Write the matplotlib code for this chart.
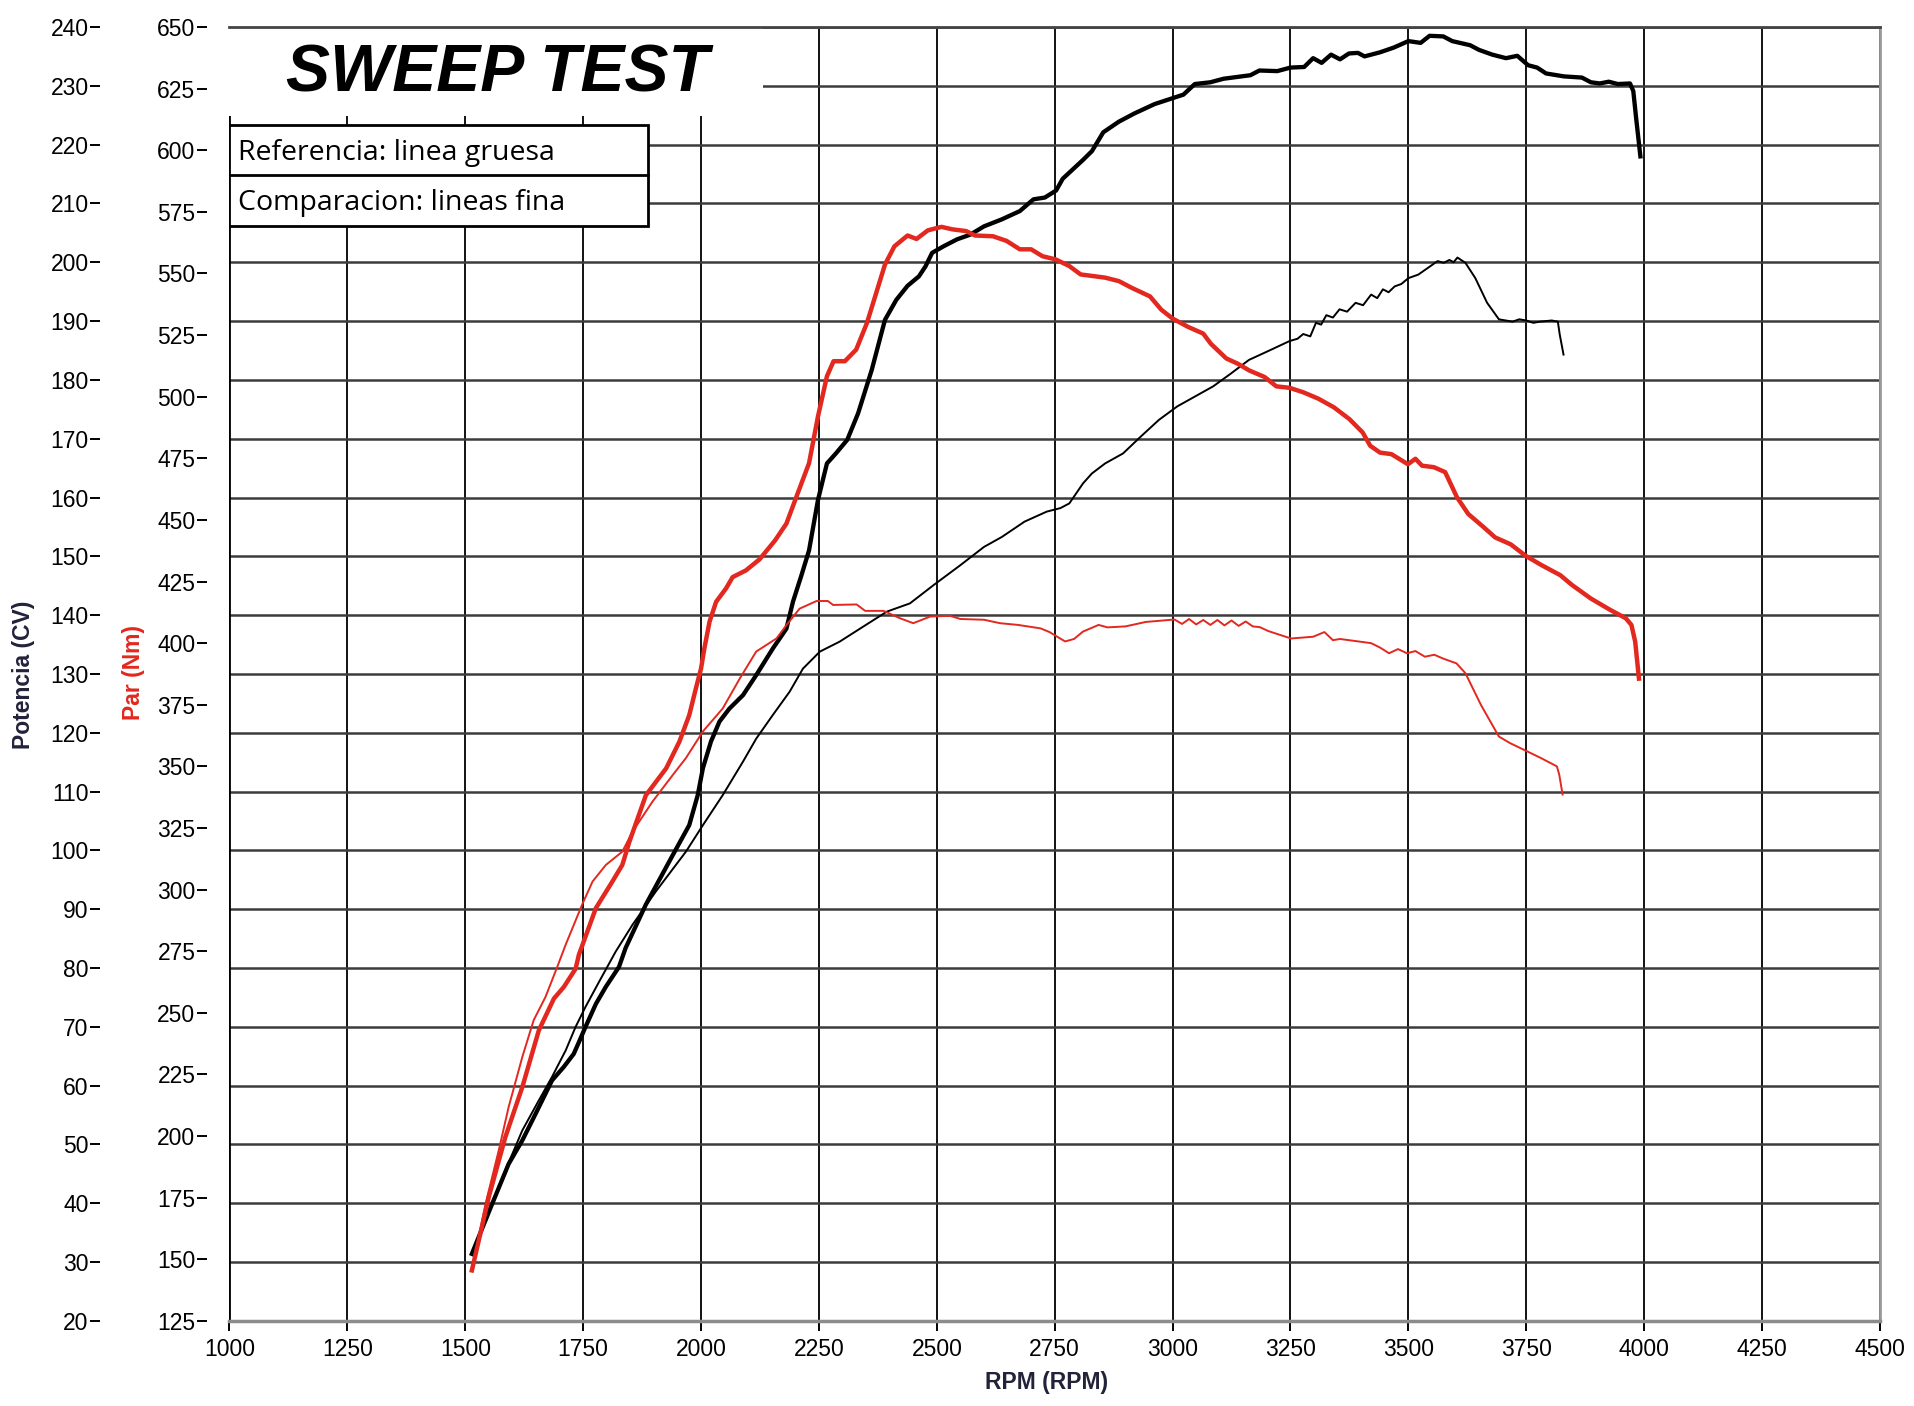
import matplotlib
matplotlib.use('Agg')
import matplotlib.pyplot as plt
from matplotlib.patches import Rectangle

# Reference run (thick lines) - power in CV
rpm_ref_pow = [1514, 1557, 1592, 1621, 1649, 1684, 1709, 1730, 1741, 1755, 1777, 1798, 1826, 1840,
               1883, 1940, 1975, 1993, 2004, 2021, 2039, 2060, 2089, 2117, 2152, 2181, 2195, 2213,
               2229, 2248, 2267, 2286, 2310, 2333, 2362, 2390, 2414, 2438, 2462, 2476, 2490, 2514,
               2543, 2571, 2600, 2638, 2676, 2705, 2729, 2753, 2767, 2810, 2829, 2853, 2886, 2919,
               2962, 3004, 3023, 3047, 3080, 3108, 3165, 3184, 3222, 3250, 3279, 3298, 3316, 3336,
               3355, 3374, 3393, 3407, 3440, 3469, 3500, 3526, 3545, 3574, 3593, 3631, 3650, 3678,
               3707, 3731, 3754, 3773, 3792, 3830, 3868, 3887, 3906, 3925, 3944, 3970, 3977, 3983,
               3992]
ref_pow = [31.4, 39.9, 46.7, 50.7, 55.2, 60.9, 63.2, 65.4, 67.4, 70.0, 73.9, 76.8, 80.2, 83.4,
           90.8, 99.2, 104.3, 109.4, 114.0, 118.5, 121.9, 124.1, 126.4, 129.8, 134.3, 137.7, 142.3, 146.8,
           151.0, 159.6, 165.8, 167.5, 169.8, 174.3, 181.7, 190.2, 193.6, 196.0, 197.6, 199.3, 201.6, 202.7,
           203.9, 204.7, 206.1, 207.3, 208.7, 210.7, 211.0, 212.2, 214.2, 217.4, 218.9, 222.1, 223.9, 225.3,
           226.9, 228.0, 228.5, 230.3, 230.6, 231.2, 231.8, 232.6, 232.5, 233.1, 233.2, 234.7, 233.9, 235.3,
           234.5, 235.5, 235.6, 235.0, 235.7, 236.5, 237.6, 237.3, 238.5, 238.4, 237.6, 236.9, 236.1, 235.3,
           234.7, 235.1, 233.5, 233.1, 232.1, 231.6, 231.4, 230.6, 230.4, 230.7, 230.3, 230.4, 229.1, 224.5,
           218.0]

# Comparison run (thin lines) - power in CV
rpm_cmp_pow = [1514, 1557, 1585, 1621, 1656, 1684, 1713, 1734, 1755, 1784, 1819, 1855, 1904, 1968,
               2004, 2046, 2089, 2117, 2152, 2188, 2216, 2252, 2294, 2337, 2394, 2443, 2493, 2550,
               2600, 2638, 2686, 2733, 2762, 2781, 2810, 2829, 2857, 2895, 2933, 2971, 3010, 3048,
               3086, 3124, 3162, 3200, 3248, 3265, 3277, 3292, 3304, 3315, 3326, 3340, 3354, 3370,
               3388, 3404, 3421, 3434, 3446, 3458, 3471, 3485, 3500, 3521, 3546, 3562, 3575, 3587,
               3596, 3604, 3621, 3642, 3667, 3692, 3721, 3735, 3750, 3765, 3779, 3804, 3817, 3821,
               3829]
cmp_pow = [31.4, 39.9, 45.6, 52.4, 57.5, 61.5, 66.0, 70.0, 73.4, 77.7, 82.8, 87.4, 93.0, 99.8,
           104.3, 109.4, 115.1, 119.0, 123.0, 127.0, 130.9, 133.8, 135.5, 137.7, 140.6, 142.0, 145.1, 148.5,
           151.6, 153.3, 155.9, 157.6, 158.2, 159.0, 162.4, 164.1, 165.8, 167.5, 170.4, 173.2, 175.5, 177.2,
           178.9, 181.1, 183.4, 184.8, 186.6, 187.0, 187.8, 187.4, 189.7, 189.4, 191.0, 190.6, 192.0, 191.6,
           193.1, 192.7, 194.5, 193.9, 195.4, 194.9, 195.9, 196.3, 197.3, 197.9, 199.3, 200.2, 199.9, 200.4,
           200.0, 200.8, 199.9, 197.3, 193.1, 190.3, 189.9, 190.3, 190.1, 189.7, 189.9, 190.1, 189.9, 187.7,
           184.3]

# Reference run (thick lines) - torque in Nm
rpm_ref_trq = [1514, 1550, 1585, 1621, 1656, 1688, 1709, 1734, 1741, 1777, 1812, 1833, 1848, 1883,
               1926, 1954, 1975, 1989, 2000, 2007, 2018, 2032, 2053, 2067, 2095, 2124, 2157, 2181,
               2205, 2229, 2248, 2267, 2281, 2305, 2329, 2352, 2376, 2390, 2410, 2438, 2457, 2481,
               2510, 2533, 2562, 2581, 2619, 2648, 2676, 2700, 2724, 2752, 2781, 2805, 2857, 2886,
               2914, 2952, 2976, 3000, 3033, 3065, 3081, 3114, 3138, 3163, 3195, 3220, 3248, 3277,
               3309, 3342, 3375, 3403, 3419, 3440, 3464, 3499, 3515, 3529, 3554, 3578, 3603, 3627,
               3660, 3684, 3717, 3749, 3782, 3822, 3847, 3887, 3928, 3961, 3973, 3981, 3989]
ref_trq = [145.5, 175.4, 199.6, 219.9, 242.9, 255.8, 260.5, 267.9, 273.6, 292.5, 303.3, 310.0, 319.4, 338.3,
           349.2, 360.0, 370.8, 381.6, 389.7, 397.8, 408.7, 416.8, 422.2, 426.8, 429.5, 434.0, 441.7, 448.5,
           460.8, 473.0, 492.0, 508.3, 514.4, 514.4, 519.1, 530.0, 544.9, 553.6, 561.0, 565.4, 564.0, 567.5,
           568.9, 567.9, 567.2, 565.4, 565.1, 563.2, 559.8, 559.8, 557.0, 555.7, 553.0, 549.6, 548.3, 546.9,
           544.1, 540.7, 535.3, 531.7, 528.3, 525.6, 521.5, 515.5, 513.4, 510.6, 508.0, 504.2, 503.6, 501.8,
           499.2, 495.7, 490.9, 485.5, 480.1, 477.3, 476.7, 472.6, 474.8, 472.0, 471.4, 469.4, 459.2, 452.4,
           447.0, 442.9, 440.1, 435.4, 431.7, 427.6, 423.6, 418.1, 413.5, 410.1, 407.4, 400.6, 385.6]

# Comparison run (thin lines) - torque in Nm
rpm_cmp_trq = [1514, 1543, 1571, 1592, 1621, 1645, 1670, 1695, 1713, 1748, 1770, 1798, 1833, 1855,
               1897, 1940, 1968, 2004, 2046, 2082, 2117, 2160, 2181, 2209, 2245, 2269, 2280, 2330,
               2348, 2387, 2422, 2450, 2486, 2528, 2550, 2600, 2634, 2672, 2720, 2739, 2772, 2791,
               2810, 2843, 2862, 2900, 2943, 3004, 3020, 3035, 3050, 3065, 3080, 3095, 3110, 3125,
               3140, 3155, 3170, 3185, 3203, 3251, 3298, 3322, 3340, 3355, 3421, 3440, 3459, 3478,
               3497, 3515, 3535, 3555, 3573, 3602, 3621, 3654, 3692, 3716, 3753, 3782, 3815, 3820,
               3827]
cmp_trq = [145.5, 172.5, 194.2, 211.8, 232.1, 247.0, 256.4, 268.6, 277.7, 294.0, 303.3, 310.0, 315.4, 323.6,
           335.7, 346.5, 353.4, 364.2, 373.5, 385.6, 396.6, 401.9, 407.3, 414.0, 417.1, 417.1, 415.5, 415.7,
           413.1, 413.1, 410.1, 408.1, 410.8, 411.1, 409.8, 409.5, 408.1, 407.4, 406.0, 404.5, 400.7, 401.7,
           404.7, 407.4, 406.4, 406.8, 408.6, 409.6, 407.8, 409.8, 407.6, 409.4, 407.4, 409.4, 407.2, 409.2,
           407.0, 408.8, 406.8, 406.5, 404.9, 401.9, 402.6, 404.5, 401.2, 401.7, 400.0, 398.2, 395.9, 397.6,
           395.9, 396.8, 394.5, 395.3, 393.8, 391.8, 387.8, 374.9, 362.1, 359.4, 356.0, 353.3, 350.0, 346.6,
           338.6]

rpm_ticks = list(range(1000, 4501, 250))
pow_ticks = list(range(20, 241, 10))
trq_ticks = list(range(125, 651, 25))

red = '#e2281f'
narrow = ['Liberation Sans Narrow', 'Liberation Sans', 'DejaVu Sans']

fig = plt.figure(figsize=(19.14, 14.06), dpi=100)
ax = fig.add_axes([0.1199, 0.0605, 0.8623, 0.9203])
ax_t = ax.twinx()

# power axis (gridlines follow power ticks)
ax.set_xlim(1000, 4500)
ax.set_ylim(20, 240)
ax.set_xticks(rpm_ticks)
ax.set_yticks(pow_ticks)
ax.set_axisbelow(True)
ax.grid(axis='y', color='#3c3c3c', linewidth=1.8)
ax.grid(axis='x', color='black', linewidth=1.3)
ax.spines['left'].set_position(('outward', 93))
ax.spines['left'].set_color('none')
ax.spines['top'].set_color('#444444')
ax.spines['top'].set_linewidth(2)
ax.spines['right'].set_color('#9a9a9a')
ax.spines['right'].set_linewidth(2)
ax.spines['bottom'].set_color('#8c8c8c')
ax.spines['bottom'].set_linewidth(2.5)
ax.axvline(1000, color='black', linewidth=2, zorder=1)
ax.tick_params(axis='y', direction='out', length=7, width=1.4, pad=1.5, labelsize=16.5, color='black')
ax.tick_params(axis='x', direction='out', length=7, width=1.4, pad=5, labelsize=16.5, color='black')
for lab in ax.get_xticklabels() + ax.get_yticklabels():
    lab.set_family(narrow)

# torque axis on the left, inside the power axis
ax_t.set_ylim(125, 650)
ax_t.set_yticks(trq_ticks)
ax_t.yaxis.set_ticks_position('left')
ax_t.yaxis.set_label_position('left')
ax_t.spines['left'].set_position(('outward', 16))
for s in ['left', 'right', 'top', 'bottom']:
    ax_t.spines[s].set_color('none')
ax_t.tick_params(axis='y', direction='out', length=7, width=1.4, pad=1.5, labelsize=16.5, color='black')
for lab in ax_t.get_yticklabels():
    lab.set_family(narrow)

# curves
ax.plot(rpm_cmp_pow, cmp_pow, color='black', linewidth=1.4, zorder=3)
ax.plot(rpm_ref_pow, ref_pow, color='black', linewidth=3.1, zorder=4)
ax_t.plot(rpm_cmp_trq, cmp_trq, color=red, linewidth=1.4, zorder=3)
ax_t.plot(rpm_ref_trq, ref_trq, color=red, linewidth=3.2, zorder=4)

# title block and legend box
ax.add_patch(Rectangle((0, 0.9311), 0.3232, 0.0689, transform=ax.transAxes,
                       facecolor='white', edgecolor='none', zorder=1.5))
ax.text(0.0345, 0.9635, 'SWEEP TEST', transform=ax.transAxes, fontsize=47.5,
        fontweight='bold', fontstyle='italic', family='Liberation Sans',
        va='center', ha='left', zorder=5)
ax.add_patch(Rectangle((0, 0.8462), 0.2537, 0.0783, transform=ax.transAxes,
                       facecolor='white', edgecolor='black', linewidth=2, zorder=1.6))
ax.plot([0, 0.2537], [0.8858, 0.8858], transform=ax.transAxes, color='black',
        linewidth=2, zorder=1.7)
ax.text(0.0050, 0.9030, 'Referencia: linea gruesa', transform=ax.transAxes,
        fontsize=20.5, family='Open Sans', va='center', ha='left', zorder=5)
ax.text(0.0050, 0.8642, 'Comparacion: lineas fina', transform=ax.transAxes,
        fontsize=20.5, family='Open Sans', va='center', ha='left', zorder=5)

# axis titles
fig.text(0.0125, 0.52, 'Potencia (CV)', rotation=90, fontsize=16.5, fontweight='bold',
         color='#22223b', family='Liberation Sans', ha='center', va='center')
fig.text(0.070, 0.522, 'Par (Nm)', rotation=90, fontsize=16.5, fontweight='bold',
         color=red, family='Liberation Sans', ha='center', va='center')
fig.text(0.547, 0.0165, 'RPM (RPM)', fontsize=16.5, fontweight='bold',
         color='#22223b', family='Liberation Sans', ha='center', va='center')

fig.savefig('out.png', dpi=100, facecolor='white')
